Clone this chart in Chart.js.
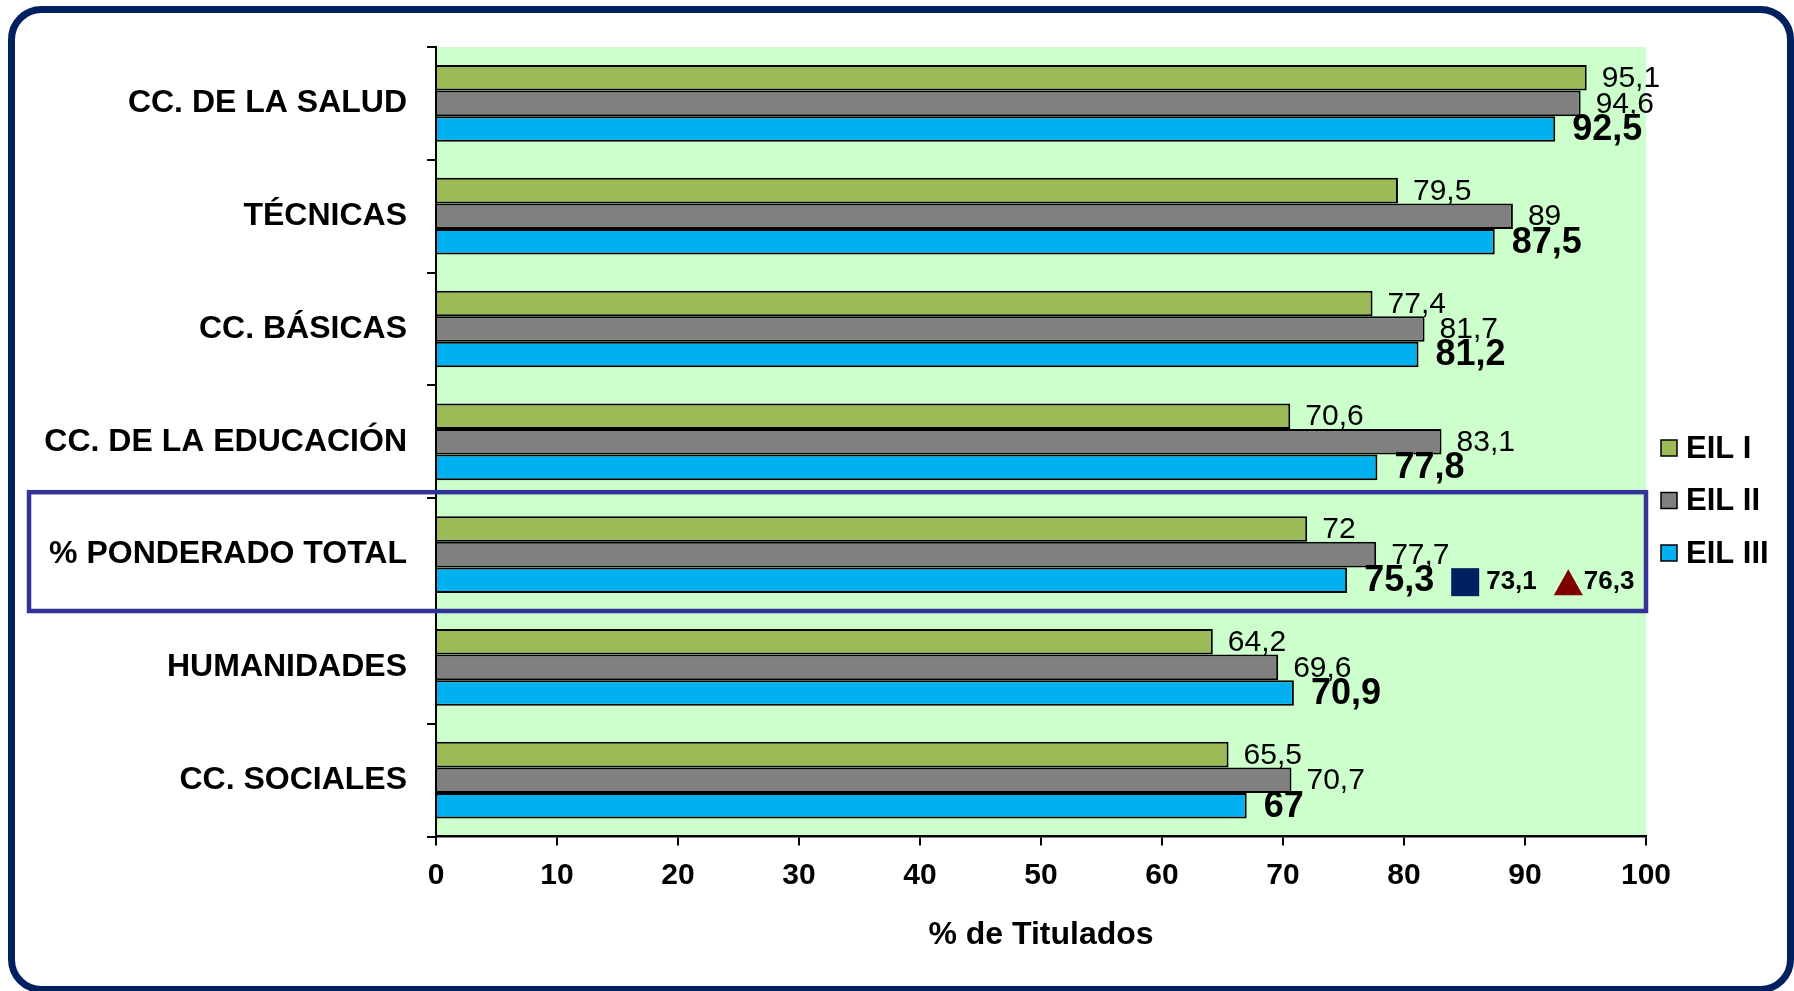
<!DOCTYPE html>
<html lang="es">
<head>
<meta charset="UTF-8">
<title>% de Titulados</title>
<script src="https://cdn.jsdelivr.net/npm/chart.js"></script>
<style>
  body { margin: 0; background: #fff; }
  canvas { display: block; }
</style>
</head>
<body>
<canvas id="chart" width="1794" height="991"></canvas>
<script>
  const categories = ['CC. DE LA SALUD', 'TÉCNICAS', 'CC. BÁSICAS', 'CC. DE LA EDUCACIÓN',
                      '% PONDERADO TOTAL', 'HUMANIDADES', 'CC. SOCIALES'];
  const seriesNames = ['EIL I', 'EIL II', 'EIL III'];
  const eil1 = [95.1, 79.5, 77.4, 70.6, 72, 64.2, 65.5];
  const eil2 = [94.6, 89, 81.7, 83.1, 77.7, 69.6, 70.7];
  const eil3 = [92.5, 87.5, 81.2, 77.8, 75.3, 70.9, 67];
  const xTicks = [0, 10, 20, 30, 40, 50, 60, 70, 80, 90, 100];
  const highlightCategory = '% PONDERADO TOTAL';
  // reference values shown next to the weighted total row
  const refValues = [73.1, 76.3];
  const refColors = ['#002060', '#7f0000'];
  const refShapes = ['square', 'triangle'];

  const FONT = '"Liberation Sans", Arial, sans-serif';
  const fmt = v => String(v).replace('.', ',');

  // green plot background
  const background = {
    id: 'background',
    beforeDraw(chart) {
      const {ctx, chartArea: a} = chart;
      ctx.save();
      ctx.fillStyle = '#fff';
      ctx.fillRect(0, 0, chart.width, chart.height);
      ctx.fillStyle = '#ccffcc';
      ctx.fillRect(a.left, a.top, a.right - a.left, a.bottom - a.top);
      ctx.restore();
    }
  };

  // value labels after each bar
  const valueLabels = {
    id: 'valueLabels',
    afterDatasetsDraw(chart) {
      const {ctx} = chart;
      ctx.save();
      ctx.fillStyle = '#000';
      ctx.textAlign = 'left';
      ctx.textBaseline = 'middle';
      chart.data.datasets.forEach((ds, di) => {
        const bold = di === 2;
        ctx.font = (bold ? 'bold 36px ' : '30px ') + FONT;
        chart.getDatasetMeta(di).data.forEach((bar, i) => {
          ctx.fillText(fmt(ds.data[i]), bar.x + (bold ? 17 : 15), bar.y + 1);
        });
      });

      // reference markers on the weighted total row
      const row = categories.indexOf(highlightCategory);
      const bar = chart.getDatasetMeta(2).data[row];
      ctx.font = 'bold 36px ' + FONT;
      let x = bar.x + 17 + ctx.measureText(fmt(eil3[row])).width + 17;
      const y = bar.y + 2;
      refValues.forEach((v, k) => {
        ctx.fillStyle = refColors[k];
        if (refShapes[k] === 'square') {
          ctx.fillRect(x, y - 14, 28, 28);
          x += 28 + 7;
        } else {
          ctx.beginPath();
          ctx.moveTo(x, y + 13);
          ctx.lineTo(x + 14.5, y - 13);
          ctx.lineTo(x + 29, y + 13);
          ctx.closePath();
          ctx.fill();
          x += 29 + 1;
        }
        ctx.fillStyle = '#000';
        ctx.font = 'bold 26px ' + FONT;
        ctx.fillText(fmt(v), x, y);
        x += ctx.measureText(fmt(v)).width + 17;
      });
      ctx.restore();
    }
  };

  // outer frame, highlight box and legend
  const decorations = {
    id: 'decorations',
    afterDraw(chart) {
      const {ctx, chartArea: a} = chart;
      const yScale = chart.scales.y;
      ctx.save();

      ctx.strokeStyle = '#002060';
      ctx.lineWidth = 7;
      ctx.beginPath();
      ctx.roundRect(11.5, 9.5, 1779, 980, 30);
      ctx.stroke();

      const row = categories.indexOf(highlightCategory);
      const band = (a.bottom - a.top) / categories.length;
      const cy = yScale.getPixelForValue(row);
      ctx.strokeStyle = '#333399';
      ctx.lineWidth = 4.5;
      ctx.strokeRect(29, cy - band / 2 - 6, a.right - 29, band + 6);

      ctx.font = 'bold 31px ' + FONT;
      ctx.textBaseline = 'middle';
      ctx.textAlign = 'left';
      chart.data.datasets.forEach((ds, i) => {
        const ly = chart.height / 2 + (i - 1) * 52.5 + 5;
        ctx.fillStyle = ds.backgroundColor;
        ctx.fillRect(a.right + 15, ly - 8, 16, 16);
        ctx.strokeStyle = '#000';
        ctx.lineWidth = 1.5;
        ctx.strokeRect(a.right + 15, ly - 8, 16, 16);
        ctx.fillStyle = '#000';
        ctx.fillText(ds.label, a.right + 40, ly + 1);
      });
      ctx.restore();
    }
  };

  new Chart(document.getElementById('chart'), {
    type: 'bar',
    data: {
      labels: categories,
      datasets: [
        { label: seriesNames[0], data: eil1, backgroundColor: '#9bbb59' },
        { label: seriesNames[1], data: eil2, backgroundColor: '#808080' },
        { label: seriesNames[2], data: eil3, backgroundColor: '#00b0f0' }
      ]
    },
    options: {
      indexAxis: 'y',
      responsive: false,
      animation: false,
      layout: { padding: { top: 47, bottom: 37, left: 0, right: 148 } },
      datasets: {
        bar: {
          borderColor: '#000',
          borderWidth: 2,
          categoryPercentage: 0.68,
          barPercentage: 1.0
        }
      },
      plugins: {
        legend: { display: false },
        tooltip: { enabled: false }
      },
      scales: {
        x: {
          min: 0,
          max: 100,
          afterBuildTicks: s => { s.ticks = xTicks.map(v => ({ value: v })); },
          grid: { drawOnChartArea: false, tickLength: 9, color: '#000', lineWidth: 2 },
          border: { color: '#000', width: 2.5 },
          ticks: { padding: 12, color: '#000', font: { family: FONT, size: 30, weight: 'bold' } },
          title: {
            display: true,
            text: '% de Titulados',
            color: '#000',
            padding: { top: 10, bottom: 0 },
            font: { family: FONT, size: 32, weight: 'bold' }
          }
        },
        y: {
          afterFit: s => { s.width = 436; },
          grid: { drawOnChartArea: false, tickLength: 9, color: '#000', lineWidth: 2, offset: true },
          border: { color: '#000', width: 2 },
          ticks: { padding: 20, color: '#000', font: { family: FONT, size: 32, weight: 'bold' } }
        }
      }
    },
    plugins: [background, valueLabels, decorations]
  });
</script>
</body>
</html>
